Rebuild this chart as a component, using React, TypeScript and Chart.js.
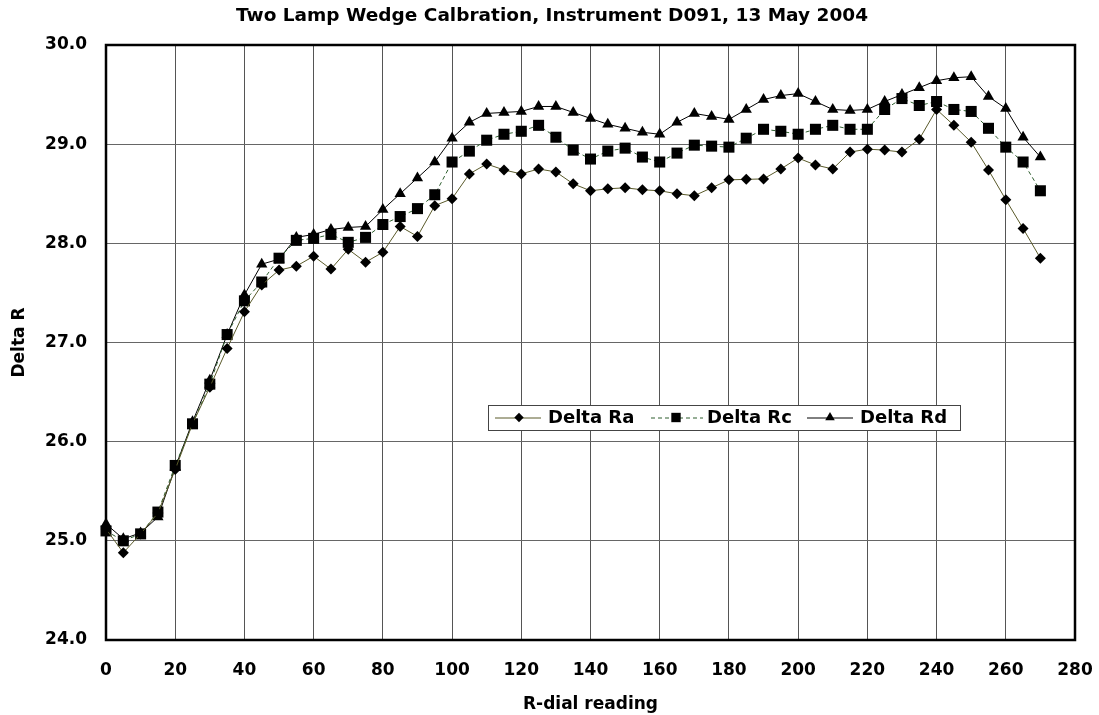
import React, { useEffect, useRef } from "react";
import { Chart, registerables } from "chart.js";

Chart.register(...registerables);

const chartTitle = "Two Lamp Wedge Calbration, Instrument D091, 13 May 2004";
const xAxisTitle = "R-dial reading";
const yAxisTitle = "Delta R";
const seriesNames = ["Delta Ra", "Delta Rc", "Delta Rd"];

const rDial = [
  0, 5, 10, 15, 20, 25, 30, 35, 40, 45, 50, 55, 60, 65, 70, 75, 80, 85, 90, 95,
  100, 105, 110, 115, 120, 125, 130, 135, 140, 145, 150, 155, 160, 165, 170, 175,
  180, 185, 190, 195, 200, 205, 210, 215, 220, 225, 230, 235, 240, 245, 250, 255,
  260, 265, 270,
];

const deltaRa = [
  25.12, 24.88, 25.07, 25.28, 25.72, 26.18, 26.55, 26.94, 27.31, 27.58, 27.73,
  27.77, 27.87, 27.74, 27.94, 27.81, 27.91, 28.17, 28.07, 28.38, 28.45, 28.7,
  28.8, 28.74, 28.7, 28.75, 28.72, 28.6, 28.53, 28.55, 28.56, 28.54, 28.53, 28.5,
  28.48, 28.56, 28.64, 28.645, 28.65, 28.75, 28.86, 28.79, 28.75, 28.92, 28.95,
  28.94, 28.92, 29.05, 29.35, 29.19, 29.02, 28.74, 28.44, 28.15, 27.85,
];

const deltaRc = [
  25.1, 25.0, 25.07, 25.29, 25.76, 26.18, 26.58, 27.08, 27.42, 27.61, 27.85,
  28.03, 28.05, 28.09, 28.01, 28.06, 28.19, 28.27, 28.35, 28.49, 28.82, 28.93,
  29.04, 29.1, 29.13, 29.19, 29.07, 28.94, 28.85, 28.93, 28.96, 28.87, 28.82,
  28.91, 28.99, 28.98, 28.97, 29.06, 29.15, 29.13, 29.1, 29.15, 29.19, 29.15,
  29.15, 29.35, 29.46, 29.39, 29.43, 29.35, 29.33, 29.16, 28.97, 28.82, 28.53,
];

const deltaRd = [
  25.17, 25.02, 25.08, 25.24, 25.74, 26.2, 26.62, 27.08, 27.48, 27.79, 27.84,
  28.06, 28.09, 28.14, 28.16, 28.17, 28.34, 28.5, 28.66, 28.82, 29.06, 29.22,
  29.31, 29.32, 29.33, 29.38, 29.38, 29.32, 29.26, 29.2, 29.16, 29.12, 29.1,
  29.22, 29.31, 29.28, 29.25, 29.35, 29.45, 29.49, 29.51, 29.43, 29.35, 29.34,
  29.35, 29.43, 29.5, 29.57, 29.64, 29.67, 29.68, 29.48, 29.36, 29.07, 28.87,
];

const xTicks = [0, 20, 40, 60, 80, 100, 120, 140, 160, 180, 200, 220, 240, 260, 280];
const yTicks = [24, 25, 26, 27, 28, 29, 30];

const TICK_FONT = { family: "'DejaVu Sans'", weight: "bold" as const, size: 17 };
const LEG_FONT = "bold 18px 'DejaVu Sans'";

const seriesStyles = [
  { color: "#5a5a2a", dash: [] as number[], point: "rectRot", radius: 5.5 },
  { color: "#2f5f2f", dash: [4, 3], point: "rect", radius: 7.8 },
  { color: "#000000", dash: [] as number[], point: "triangle", radius: 6.5 },
];

function drawMarker(ctx: CanvasRenderingContext2D, kind: string, x: number, y: number, r: number) {
  ctx.beginPath();
  if (kind === "rectRot") {
    ctx.moveTo(x - r, y);
    ctx.lineTo(x, y - r);
    ctx.lineTo(x + r, y);
    ctx.lineTo(x, y + r);
  } else if (kind === "rect") {
    const s = Math.SQRT1_2 * r;
    ctx.rect(x - s, y - s, 2 * s, 2 * s);
  } else {
    let rad = 0;
    ctx.moveTo(x + Math.sin(rad) * r, y - Math.cos(rad) * r);
    rad += (2 * Math.PI) / 3;
    ctx.lineTo(x + Math.sin(rad) * r, y - Math.cos(rad) * r);
    rad += (2 * Math.PI) / 3;
    ctx.lineTo(x + Math.sin(rad) * r, y - Math.cos(rad) * r);
  }
  ctx.closePath();
  ctx.fillStyle = "#000";
  ctx.fill();
}

const framePlugin = {
  id: "frame",
  beforeDatasetsDraw(chart: any) {
    const { ctx, chartArea: a } = chart;
    ctx.save();
    ctx.strokeStyle = "#000";
    ctx.lineWidth = 2.5;
    ctx.strokeRect(a.left, a.top, a.right - a.left, a.bottom - a.top);
    ctx.restore();
  },
};

const titlePlugin = {
  id: "customTitle",
  afterDraw(chart: any) {
    const { ctx } = chart;
    ctx.save();
    ctx.fillStyle = "#000";
    ctx.font = "bold 18.5px 'DejaVu Sans'";
    ctx.textAlign = "center";
    ctx.textBaseline = "middle";
    ctx.fillText(chartTitle, 552, 16);
    ctx.restore();
  },
};

const legendPlugin = {
  id: "boxLegend",
  afterDraw(chart: any) {
    const { ctx } = chart;
    const x0 = 488;
    const y0 = 405;
    const w = 472;
    const h = 25;
    const cy = y0 + h / 2;
    ctx.save();
    ctx.fillStyle = "#fff";
    ctx.fillRect(x0, y0, w, h);
    ctx.strokeStyle = "#444";
    ctx.lineWidth = 1;
    ctx.strokeRect(x0 + 0.5, y0 + 0.5, w, h);
    const items = [
      { l0: 495, l1: 541, m: 519, t: 548 },
      { l0: 651, l1: 703, m: 676, t: 707 },
      { l0: 807, l1: 853, m: 830, t: 860 },
    ];
    items.forEach((it, i) => {
      const st = seriesStyles[i];
      ctx.strokeStyle = st.color;
      ctx.lineWidth = 1;
      ctx.setLineDash(st.dash);
      ctx.beginPath();
      ctx.moveTo(it.l0, cy + 0.5);
      ctx.lineTo(it.l1, cy + 0.5);
      ctx.stroke();
      ctx.setLineDash([]);
      drawMarker(ctx, st.point, it.m, cy, st.radius * 0.85);
      ctx.fillStyle = "#000";
      ctx.font = LEG_FONT;
      ctx.textAlign = "left";
      ctx.textBaseline = "middle";
      ctx.fillText(seriesNames[i], it.t, cy + 1);
    });
    ctx.restore();
  },
};

export default function App() {
  const canvasRef = useRef<HTMLCanvasElement | null>(null);

  useEffect(() => {
    const canvas = canvasRef.current;
    if (!canvas) return;
    const all = [deltaRa, deltaRc, deltaRd];
    const chart = new Chart(canvas, {
      type: "line",
      data: {
        datasets: all.map((vals, i) => ({
          label: seriesNames[i],
          data: rDial.map((x, j) => ({ x, y: vals[j] })),
          borderColor: seriesStyles[i].color,
          borderWidth: 1,
          borderDash: seriesStyles[i].dash,
          pointStyle: seriesStyles[i].point as any,
          pointRadius: seriesStyles[i].radius,
          pointBackgroundColor: "#000",
          pointBorderColor: "#000",
          pointBorderWidth: 0,
          tension: 0,
          fill: false,
          clip: false as any,
        })),
      },
      options: {
        animation: false,
        responsive: false,
        maintainAspectRatio: false,
        layout: { padding: { top: 45, right: 24, bottom: 0, left: 0 } },
        plugins: {
          legend: { display: false },
          title: { display: false },
          tooltip: { enabled: false },
        },
        scales: {
          x: {
            type: "linear",
            min: 0,
            max: 280,
            afterBuildTicks: (s: any) => {
              s.ticks = xTicks.map((v) => ({ value: v }));
            },
            afterFit: (s: any) => {
              s.height = 75;
              s.paddingLeft = 0;
              s.paddingRight = 0;
            },
            grid: { color: "#555", lineWidth: 1, drawTicks: false },
            border: { display: false },
            ticks: { font: TICK_FONT, color: "#000", padding: 20, maxRotation: 0 },
            title: {
              display: true,
              text: xAxisTitle,
              font: { family: "'DejaVu Sans'", weight: "bold", size: 17 },
              color: "#000",
              padding: { top: 7, bottom: 0 },
            },
          },
          y: {
            type: "linear",
            min: 24,
            max: 30,
            afterBuildTicks: (s: any) => {
              s.ticks = yTicks.map((v) => ({ value: v }));
            },
            afterFit: (s: any) => {
              s.width = 106;
              s.paddingTop = 0;
              s.paddingBottom = 0;
            },
            grid: { color: "#666", lineWidth: 1, drawTicks: false },
            border: { display: false },
            ticks: {
              font: TICK_FONT,
              color: "#000",
              padding: 19,
              callback: (v: any) => Number(v).toFixed(1),
            },
            title: {
              display: true,
              text: yAxisTitle,
              font: { family: "'DejaVu Sans'", weight: "bold", size: 17 },
              color: "#000",
              padding: { top: 9, bottom: 0 },
            },
          },
        },
      },
      plugins: [framePlugin, titlePlugin, legendPlugin],
    });
    return () => chart.destroy();
  }, []);

  return (
    <div style={{ position: "fixed", left: 0, top: 0, width: 1099, height: 715, background: "#fff" }}>
      <canvas ref={canvasRef} width={1099} height={715} style={{ width: 1099, height: 715 }} />
    </div>
  );
}
